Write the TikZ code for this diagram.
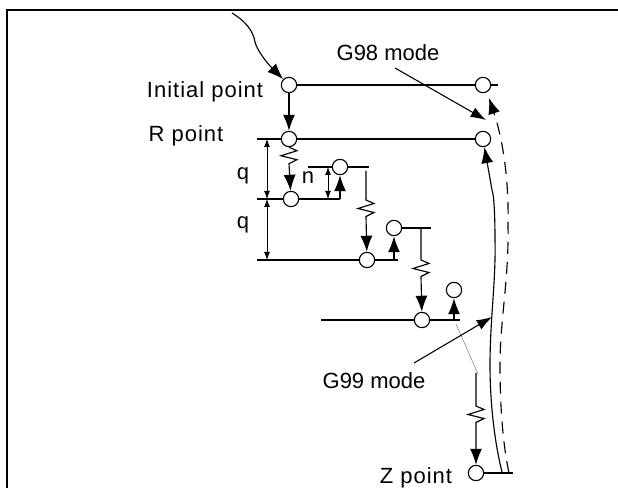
\documentclass[tikz,border=0pt]{standalone}
\usepackage{fontspec}
\setmainfont{Liberation Sans}
\newfontfamily\widefont[LetterSpace=4.5]{Liberation Sans}
\usetikzlibrary{arrows.meta,backgrounds}
\tikzset{
  pointc/.style={draw, circle, fill=white, line width=0.85pt, minimum size=11.5pt, inner sep=0pt},
  lbl/.style={font=\fontsize{16.5}{18}\selectfont, inner sep=0pt, anchor=center},
  widelbl/.style={font=\fontsize{16.5}{18}\selectfont\widefont, inner sep=0pt, anchor=center},
  arrow/.style={-{Latex[length=12pt,width=9pt]}, line width=0.85pt},
  leader/.style={-{Latex[length=11.5pt,width=8pt]}, line width=0.8pt},
  dim/.style={{Latex[length=6pt,width=4.5pt]}-{Latex[length=6pt,width=4.5pt]}, line width=0.7pt},
  level/.style={line width=0.85pt}
}
\newcommand{\zig}{-- ++(8,3.5) -- ++(-16,5) -- ++(16,4) -- ++(-8,4)}
\begin{document}
\begin{tikzpicture}[x=0.75pt,y=-0.75pt]
  \useasboundingbox (0,0) rectangle (618,488);
  % frame
  \coordinate (fbl) at (7,488);
  \coordinate (ftl) at (7,10);
  \coordinate (ftr) at (618,10);
  \draw[line width=1.6pt] (fbl) -- (ftl) -- (ftr);
  % points
  \node[pointc] (init) at (289,85) {};
  \node[pointc] (rpt) at (289,139) {};
  \node[pointc] (p1) at (291,199) {};
  \node[pointc] (u1) at (340,167) {};
  \node[pointc] (p2) at (367,260) {};
  \node[pointc] (u2) at (394,228) {};
  \node[pointc] (p3) at (422,320) {};
  \node[pointc] (u3) at (454,290) {};
  \node[pointc] (zpt) at (476,473) {};
  \node[pointc] (init98) at (483,85) {};
  \node[pointc] (r98) at (483,139) {};
  % free ends
  \coordinate (start) at (232,13);
  \coordinate (e0) at (498,85);
  \coordinate (r0) at (257,139);
  \coordinate (l1) at (257,199);
  \coordinate (b1) at (340,199);
  \coordinate (t1a) at (308,167);
  \coordinate (t1b) at (369,167);
  \coordinate (v1) at (366,171);
  \coordinate (l2) at (257,260);
  \coordinate (b2) at (394,260);
  \coordinate (e2) at (398,260);
  \coordinate (t2b) at (431,228);
  \coordinate (v2) at (421,228);
  \coordinate (l3) at (321,320);
  \coordinate (b3) at (454,320);
  \coordinate (e3) at (460,320);
  \coordinate (brk1) at (456,324);
  \coordinate (brk2) at (478,374);
  \coordinate (v3) at (476,373);
  \coordinate (ze) at (513,473);
  \coordinate (dtip) at (489,98);
  % levels
  \begin{scope}[on background layer]
    \draw[level] (init) -- (init98) -- (e0);
    \draw[level] (r0) -- (r98);
    \draw[level] (l1) -- (p1) -- (b1);
    \draw[level] (t1a) -- (t1b);
    \draw[level] (l2) -- (e2);
    \draw[level] (u2) -- (t2b);
    \draw[level] (l3) -- (e3);
    \draw[level] (zpt) -- (ze);
  \end{scope}
  % feed moves
  \draw[arrow] (start) .. controls (245,21) and (253,30) .. (255,42) .. controls (257,50) and (266,62) .. (init);
  \draw[arrow] (init) -- (rpt);
  \draw[arrow] (rpt.south) \zig -- (p1);
  \draw[arrow] (b1) -- (u1);
  \draw[arrow] (v1) -- ++(0,29) \zig -- (p2);
  \draw[arrow] (b2) -- (u2);
  \draw[arrow] (v2) -- ++(0,32) \zig -- (p3);
  \draw[arrow] (b3) -- (u3);
  \draw[gray, line width=0.4pt] (brk1) -- (brk2);
  \draw[arrow] (v3) -- ++(0,33) \zig -- (zpt);
  % returns
  \draw[arrow] (502,472) .. controls (494,440) and (490,400) .. (490,365) .. controls (490,320) and (496,280) .. (495,240) .. controls (495,215) and (494,195) .. (492,190) -- (r98);
  \draw[arrow, dash pattern=on 9pt off 6pt] (509,473) .. controls (502,440) and (500,400) .. (500,365) .. controls (500,320) and (509,280) .. (508,225) .. controls (509,180) and (503,140) .. (dtip);
  % leaders
  \coordinate (g98a) at (395,68);
  \coordinate (g98b) at (486,120);
  \coordinate (g99a) at (414,363);
  \coordinate (g99b) at (492,317);
  \draw[leader] (g98a) -- (g98b);
  \draw[leader] (g99a) -- (g99b);
  % dimensions
  \coordinate (q1) at (267,139);
  \coordinate (q2) at (267,199);
  \coordinate (q3) at (267,260);
  \coordinate (n1) at (328,167);
  \coordinate (n2) at (328,199);
  \draw[dim] (q1) -- (q2);
  \draw[dim] (q2) -- (q3);
  \draw[dim] (n1) -- (n2);
  % labels
  \node[widelbl] (linit) at (205,92) {Initial point};
  \node[widelbl] (lr) at (186,136) {R point};
  \node[lbl] (lq1) at (243,176) {q};
  \node[lbl] (lq2) at (243,225) {q};
  \node[lbl] (ln) at (308,178) {n};
  \node[lbl] (l98) at (388,53) {G98 mode};
  \node[lbl] (l99) at (374,381) {G99 mode};
  \node[widelbl] (lz) at (416,478) {Z point};
\end{tikzpicture}
\end{document}
